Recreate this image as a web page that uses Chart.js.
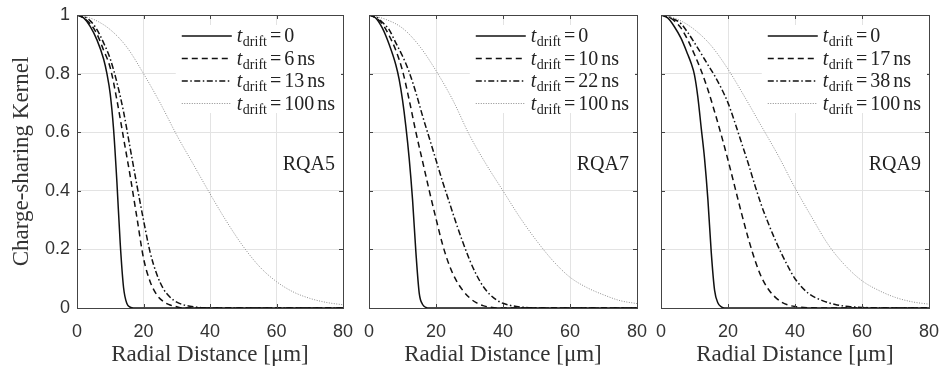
<!DOCTYPE html>
<html>
<head>
<meta charset="utf-8">
<script src="https://cdn.jsdelivr.net/npm/chart.js@4.4.1/dist/chart.umd.min.js"></script>
<style>
html, body { margin: 0; padding: 0; background: #fff; }
#wrap { position: relative; width: 942px; height: 373px; }
#wrap canvas { position: absolute; left: 0; top: 0; }
</style>
</head>
<body>
<div id="wrap">
  <canvas id="rqa5" width="942" height="373"></canvas>
  <canvas id="rqa7" width="942" height="373"></canvas>
  <canvas id="rqa9" width="942" height="373"></canvas>
</div>
<script>
// radial distance samples (um)
const x_core = [0, 2, 4, 6, 8, 9, 10, 11, 12, 13, 14, 15, 16, 17, 18, 19, 80];
const x_wide = [0, 2, 4, 6, 8, 10, 12, 14, 16, 18, 20, 22, 24, 26, 28, 30, 32, 34, 36, 38, 40, 44, 48, 52, 56, 60, 70, 80];
const x_far = [0, 5, 10, 15, 20, 25, 30, 35, 40, 45, 50, 55, 60, 65, 70, 75, 80];

// RQA5
const rqa5_times = ['0', '6', '13', '100'];
const rqa5_t0 = [1, 0.99, 0.96, 0.915, 0.85, 0.8, 0.73, 0.61, 0.43, 0.22, 0.07, 0.015, 0.003, 0, 0, 0, 0];
const rqa5_t1 = [1, 0.99, 0.97, 0.935, 0.88, 0.82, 0.71, 0.58, 0.45, 0.31, 0.17, 0.09, 0.045, 0.022, 0.01, 0.004, 0, 0, 0, 0, 0, 0, 0, 0, 0, 0, 0, 0];
const rqa5_t2 = [1, 0.995, 0.98, 0.95, 0.905, 0.85, 0.77, 0.67, 0.545, 0.42, 0.3, 0.19, 0.115, 0.065, 0.037, 0.02, 0.011, 0.006, 0.003, 0.001, 0, 0, 0, 0, 0, 0, 0, 0];
const rqa5_t3 = [1, 0.985, 0.95, 0.89, 0.8, 0.7, 0.59, 0.49, 0.39, 0.295, 0.21, 0.14, 0.09, 0.055, 0.033, 0.019, 0.011];

// RQA7
const rqa7_times = ['0', '10', '22', '100'];
const rqa7_t0 = [1, 0.99, 0.955, 0.9, 0.83, 0.78, 0.71, 0.62, 0.51, 0.37, 0.19, 0.05, 0.012, 0.002, 0, 0, 0];
const rqa7_t1 = [1, 0.99, 0.97, 0.93, 0.88, 0.81, 0.71, 0.6, 0.5, 0.4, 0.305, 0.215, 0.145, 0.095, 0.06, 0.035, 0.018, 0.008, 0.003, 0, 0, 0, 0, 0, 0, 0, 0, 0];
const rqa7_t2 = [1, 0.995, 0.975, 0.95, 0.905, 0.86, 0.805, 0.735, 0.655, 0.58, 0.505, 0.43, 0.36, 0.29, 0.225, 0.165, 0.115, 0.075, 0.047, 0.028, 0.016, 0.005, 0.001, 0, 0, 0, 0, 0];
const rqa7_t3 = [1, 0.985, 0.955, 0.895, 0.81, 0.71, 0.59, 0.49, 0.4, 0.31, 0.23, 0.16, 0.105, 0.07, 0.045, 0.025, 0.015];

// RQA9
const rqa9_times = ['0', '17', '38', '100'];
const rqa9_t0 = [1, 0.99, 0.96, 0.92, 0.865, 0.835, 0.795, 0.72, 0.615, 0.51, 0.37, 0.19, 0.06, 0.017, 0.004, 0, 0];
const rqa9_t1 = [1, 0.995, 0.98, 0.955, 0.915, 0.865, 0.81, 0.745, 0.67, 0.59, 0.505, 0.415, 0.325, 0.24, 0.165, 0.105, 0.065, 0.038, 0.02, 0.01, 0.005, 0.001, 0, 0, 0, 0, 0, 0];
const rqa9_t2 = [1, 0.995, 0.985, 0.97, 0.94, 0.905, 0.868, 0.83, 0.793, 0.75, 0.7, 0.635, 0.565, 0.495, 0.42, 0.35, 0.29, 0.235, 0.185, 0.14, 0.1, 0.05, 0.026, 0.012, 0.005, 0.002, 0, 0];
const rqa9_t3 = [1, 0.985, 0.95, 0.895, 0.815, 0.72, 0.62, 0.52, 0.41, 0.31, 0.215, 0.145, 0.093, 0.06, 0.036, 0.021, 0.013];

const xTicks = [0, 20, 40, 60, 80];
const yTicks = [0, 0.2, 0.4, 0.6, 0.8, 1];

const SERIF = '"Liberation Serif", "Times New Roman", serif';
const SANS = '"Liberation Sans", Arial, sans-serif';

const lineStyles = [
    { borderColor: '#111', borderWidth: 1.5, borderDash: [] },
    { borderColor: '#111', borderWidth: 1.5, borderDash: [6, 4] },
    { borderColor: '#111', borderWidth: 1.5, borderDash: [6, 2.5, 1.5, 2.5] },
    { borderColor: '#8c8c8c', borderWidth: 1, borderDash: [1, 1.5] }
];

function pairs(xs, ys) {
    return xs.map((x, i) => ({ x: x, y: ys[i] }));
}

// box, inward ticks, legend and panel tag
const panelDecor = {
    id: 'panelDecor',
    afterDatasetsDraw(chart) {
        const ctx = chart.ctx, a = chart.chartArea;
        const sx = chart.scales.x, sy = chart.scales.y;
        ctx.save();
        ctx.strokeStyle = '#444';
        ctx.lineWidth = 1;
        ctx.beginPath();
        xTicks.forEach(v => {
            const px = Math.round(sx.getPixelForValue(v)) + 0.5;
            ctx.moveTo(px, a.bottom); ctx.lineTo(px, a.bottom - 4);
            ctx.moveTo(px, a.top); ctx.lineTo(px, a.top + 4);
        });
        yTicks.forEach(v => {
            const py = Math.round(sy.getPixelForValue(v)) + 0.5;
            ctx.moveTo(a.left, py); ctx.lineTo(a.left + 4, py);
            ctx.moveTo(a.right, py); ctx.lineTo(a.right - 4, py);
        });
        ctx.stroke();
        ctx.strokeRect(Math.round(a.left) + 0.5, Math.round(a.top) + 0.5,
            Math.round(a.right - a.left), Math.round(a.bottom - a.top));
        ctx.restore();
    },
    afterDraw(chart, args, opts) {
        const ctx = chart.ctx, a = chart.chartArea;
        const big = '20px ' + SERIF, small = '14px ' + SERIF, ital = 'italic 20px ' + SERIF;
        ctx.save();
        const rows = chart.data.datasets.map(ds => {
            const parts = [];
            parts.push({ t: 't', f: ital, dy: 0, gap: 0.5 });
            parts.push({ t: 'drift', f: small, dy: 4, gap: 3 });
            parts.push({ t: '=', f: big, dy: 0, gap: 3 });
            parts.push({ t: ds.time, f: big, dy: 0, gap: 3 });
            if (ds.time !== '0') parts.push({ t: 'ns', f: big, dy: 0, gap: 0 });
            let w = 0;
            parts.forEach(p => { ctx.font = p.f; p.w = ctx.measureText(p.t).width; w += p.w + p.gap; });
            return { parts, w, ds };
        });
        const maxW = Math.max(...rows.map(r => r.w));
        const textLeft = a.right - 8 - maxW;
        const lineEnd = textLeft - 5, lineStart = lineEnd - 50;
        ctx.fillStyle = '#fff';
        ctx.fillRect(lineStart - 6, a.top + 10, a.right - 2 - (lineStart - 6), 88);
        rows.forEach((r, i) => {
            const cy = a.top + 21 + i * 22.5;
            ctx.strokeStyle = r.ds.borderColor;
            ctx.lineWidth = r.ds.borderWidth;
            ctx.setLineDash(r.ds.borderDash);
            ctx.beginPath();
            ctx.moveTo(lineStart, cy); ctx.lineTo(lineEnd, cy);
            ctx.stroke();
            ctx.setLineDash([]);
            ctx.fillStyle = '#222';
            ctx.textBaseline = 'alphabetic';
            ctx.textAlign = 'left';
            let x = textLeft;
            r.parts.forEach(p => {
                ctx.font = p.f;
                ctx.fillText(p.t, x, cy + 6 + p.dy);
                x += p.w + p.gap;
            });
        });
        ctx.font = '20px ' + SERIF;
        ctx.fillStyle = '#222';
        ctx.textAlign = 'right';
        ctx.textBaseline = 'middle';
        ctx.fillText(opts.tag, a.right - 8, chart.scales.y.getPixelForValue(0.5) + 3);
        ctx.restore();
    }
};

function makePanel(id, left, right, tag, times, series, showY) {
    const datasets = series.map((s, i) => Object.assign({
        label: tag + ' ' + times[i],
        time: times[i],
        data: pairs(s.x, s.y),
        pointRadius: 0,
        fill: false,
        cubicInterpolationMode: 'monotone'
    }, lineStyles[i]));
    return new Chart(document.getElementById(id), {
        type: 'line',
        data: { datasets: datasets },
        options: {
            responsive: false,
            animation: false,
            events: [],
            layout: { padding: { left: 0, right: 942 - right, top: 15, bottom: 0 } },
            plugins: {
                legend: { display: false },
                tooltip: { enabled: false },
                panelDecor: { tag: tag }
            },
            scales: {
                x: {
                    type: 'linear', min: 0, max: 80,
                    afterBuildTicks: sc => { sc.ticks = xTicks.map(v => ({ value: v })); },
                    afterFit: sc => { sc.height = 65; sc.paddingLeft = 0; sc.paddingRight = 0; },
                    ticks: { font: { family: SANS, size: 18 }, color: '#333', padding: 13, maxRotation: 0 },
                    grid: { color: '#e3e3e3', drawTicks: false },
                    border: { display: false },
                    title: {
                        display: true, text: 'Radial Distance [μm]', color: '#333',
                        font: { family: SERIF, size: 23 }, padding: { top: 0, bottom: 4 }
                    }
                },
                y: {
                    type: 'linear', min: 0, max: 1,
                    afterBuildTicks: sc => { sc.ticks = yTicks.map(v => ({ value: v })); },
                    afterFit: sc => { sc.width = left; sc.paddingTop = 0; sc.paddingBottom = 0; },
                    ticks: {
                        display: showY, font: { family: SANS, size: 18 }, color: '#333', padding: 7,
                        callback: v => String(Math.round(v * 10) / 10)
                    },
                    grid: { color: '#e3e3e3', drawTicks: false },
                    border: { display: false },
                    title: {
                        display: showY, text: 'Charge-sharing Kernel', color: '#333',
                        font: { family: SERIF, size: 23 }, padding: { top: 8, bottom: 0 }
                    }
                }
            }
        },
        plugins: [panelDecor]
    });
}

makePanel('rqa5', 77, 343, 'RQA5', rqa5_times, [
    { x: x_core, y: rqa5_t0 }, { x: x_wide, y: rqa5_t1 }, { x: x_wide, y: rqa5_t2 }, { x: x_far, y: rqa5_t3 }
], true);
makePanel('rqa7', 369, 637, 'RQA7', rqa7_times, [
    { x: x_core, y: rqa7_t0 }, { x: x_wide, y: rqa7_t1 }, { x: x_wide, y: rqa7_t2 }, { x: x_far, y: rqa7_t3 }
], false);
makePanel('rqa9', 661, 929, 'RQA9', rqa9_times, [
    { x: x_core, y: rqa9_t0 }, { x: x_wide, y: rqa9_t1 }, { x: x_wide, y: rqa9_t2 }, { x: x_far, y: rqa9_t3 }
], false);
</script>
</body>
</html>
